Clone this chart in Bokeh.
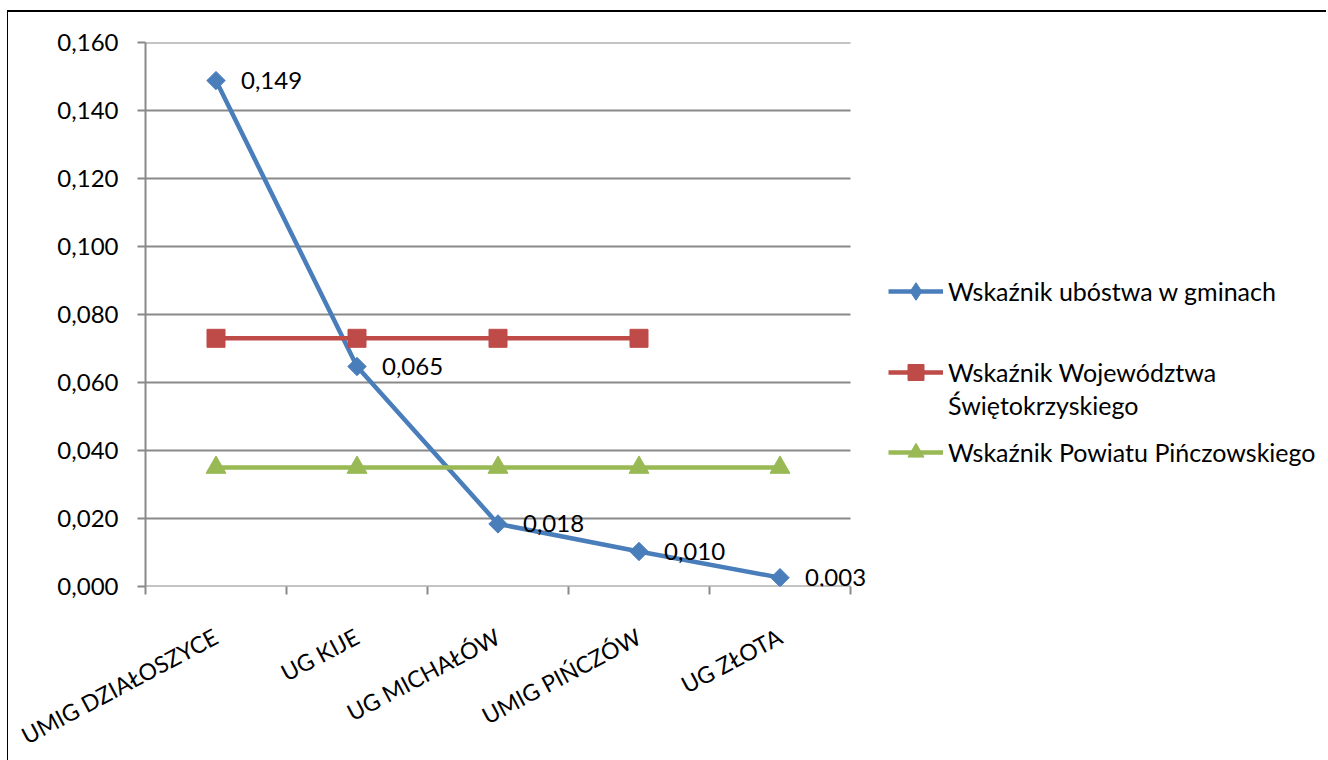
import math
from bokeh.plotting import figure
from bokeh.models import (FixedTicker, CustomJSTickFormatter, Legend, LegendItem,
                          LabelSet, ColumnDataSource, Range1d)
from bokeh.embed import file_html
from bokeh.resources import INLINE
from bokeh.core.properties import value

# ---- data ----
categories = ["UMIG DZIAŁOSZYCE", "UG KIJE", "UG MICHAŁÓW", "UMIG PIŃCZÓW", "UG ZŁOTA"]
gminy = [0.1488, 0.0647, 0.0184, 0.0103, 0.0026]
wojewodztwo = [0.073, 0.073, 0.073, 0.073, float("nan")]
powiat = [0.035, 0.035, 0.035, 0.035, 0.035]
y_ticks = [0.0, 0.02, 0.04, 0.06, 0.08, 0.10, 0.12, 0.14, 0.16]
series_names = ["Wskaźnik ubóstwa w gminach", "Wskaźnik Województwa", "Świętokrzyskiego",
                "Wskaźnik Powiatu Pińczowskiego"]

FONT = "Lato"
FS_X = "23px"
FS_Y = "24px"
FS_LBL = "24px"
FS_LEG = "25px"
GRAY = "#898989"
BLUE = "#4A7EBB"
RED = "#BE4B48"
GREEN = "#98B954"

# layout (pixels)
CAT_AREA_W = 705          # width of the category area
FRAME_W = 1181            # frame also hosts the legend on the right
FRAME_H = 544

n = len(categories)
xs = [i + 0.5 for i in range(n)]
labels = [("%.3f" % v).replace(".", ",") for v in gminy]

src_b = ColumnDataSource(dict(x=xs, y=gminy, label=labels))
src_r = ColumnDataSource(dict(x=xs, y=wojewodztwo))
src_g = ColumnDataSource(dict(x=xs, y=powiat))

p = figure(frame_width=FRAME_W, frame_height=FRAME_H, output_backend="svg", toolbar_location=None,
           x_range=Range1d(0, n * FRAME_W / CAT_AREA_W), y_range=Range1d(y_ticks[0], y_ticks[-1]),
           min_border_left=137, min_border_right=0, min_border_top=30, min_border_bottom=166)
p.styles = {"border-top": "2px solid black", "border-left": "1px solid black",
            "margin-left": "7px", "margin-top": "10px"}
p.outline_line_color = None
p.background_fill_color = "white"
p.border_fill_color = "white"

# axes
p.xaxis.ticker = FixedTicker(ticks=xs, minor_ticks=list(range(n + 1)))
p.xaxis.formatter = CustomJSTickFormatter(args=dict(labels=categories),
                                          code="return labels[Math.floor(tick)];")
p.xaxis.axis_line_color = None
p.xaxis.major_tick_line_color = None
p.xaxis.minor_tick_line_color = GRAY
p.xaxis.minor_tick_line_width = 2
p.xaxis.minor_tick_out = 8
p.xaxis.minor_tick_in = 0
p.xaxis.major_label_orientation = math.radians(28)
p.xaxis.major_label_standoff = 40
p.xaxis.major_label_text_font_size = FS_X

p.yaxis.ticker = FixedTicker(ticks=y_ticks)
p.yaxis.formatter = CustomJSTickFormatter(code="return tick.toFixed(3).replace('.', ',');")
p.yaxis.axis_line_color = GRAY
p.yaxis.axis_line_width = 2
p.yaxis.major_tick_line_color = GRAY
p.yaxis.major_tick_line_width = 2
p.yaxis.major_tick_out = 8
p.yaxis.major_tick_in = 0
p.yaxis.minor_tick_line_color = None
p.yaxis.major_label_standoff = 19
p.yaxis.major_label_text_font_size = FS_Y

for ax in (p.xaxis, p.yaxis):
    ax.major_label_text_font = FONT
    ax.major_label_text_color = "black"

p.xgrid.grid_line_color = None
p.ygrid.grid_line_color = None
# horizontal gridlines only across the category area
p.segment(x0=[0] * len(y_ticks), x1=[n] * len(y_ticks), y0=y_ticks, y1=y_ticks,
          line_color=GRAY, line_width=2)

# series
LW = 4.5
lb = p.line("x", "y", source=src_b, line_color=BLUE, line_width=LW)
mb = p.scatter("x", "y", source=src_b, marker="square", angle=math.pi / 4, size=13,
               fill_color=BLUE, line_color=BLUE)
lr = p.line("x", "y", source=src_r, line_color=RED, line_width=LW)
mr = p.scatter("x", "y", source=src_r, marker="square", size=18, fill_color=RED, line_color=RED)
lg = p.line("x", "y", source=src_g, line_color=GREEN, line_width=LW)
mg = p.scatter("x", "y", source=src_g, marker="triangle", size=20, fill_color=GREEN, line_color=GREEN)
# legend-only proxies (never visible in the plot area)
leg_b = p.scatter(x=[float("nan")], y=[float("nan")], marker="diamond",
                  fill_color=BLUE, line_color=BLUE)
dummy = p.line(x=[float("nan")], y=[float("nan")], line_alpha=0)

p.add_layout(LabelSet(x="x", y="y", text="label", source=src_b, x_offset=25,
                      text_baseline="middle", text_font=value(FONT), text_font_size=FS_LBL,
                      text_color="black"))

FRAME_BOTTOM_Y = 586
def make_legend(item, center_y, h=40):
    leg = Legend(items=[item], location=(743, FRAME_BOTTOM_Y - center_y - h / 2),
                 padding=0, margin=0, spacing=0,
                 border_line_color=None, background_fill_alpha=0,
                 glyph_width=55, glyph_height=h, label_height=h, label_standoff=5,
                 label_text_font=FONT, label_text_font_size=FS_LEG, label_text_color="black",
                 label_text_baseline="middle")
    p.add_layout(leg)

make_legend(LegendItem(label=series_names[0], renderers=[lb, leg_b]), 291, h=44)
make_legend(LegendItem(label=series_names[1], renderers=[lr, mr]), 372)
make_legend(LegendItem(label=series_names[2], renderers=[dummy]), 405)
make_legend(LegendItem(label=series_names[3], renderers=[lg, mg]), 452)

open("out.html", "w").write(file_html(p, INLINE))
